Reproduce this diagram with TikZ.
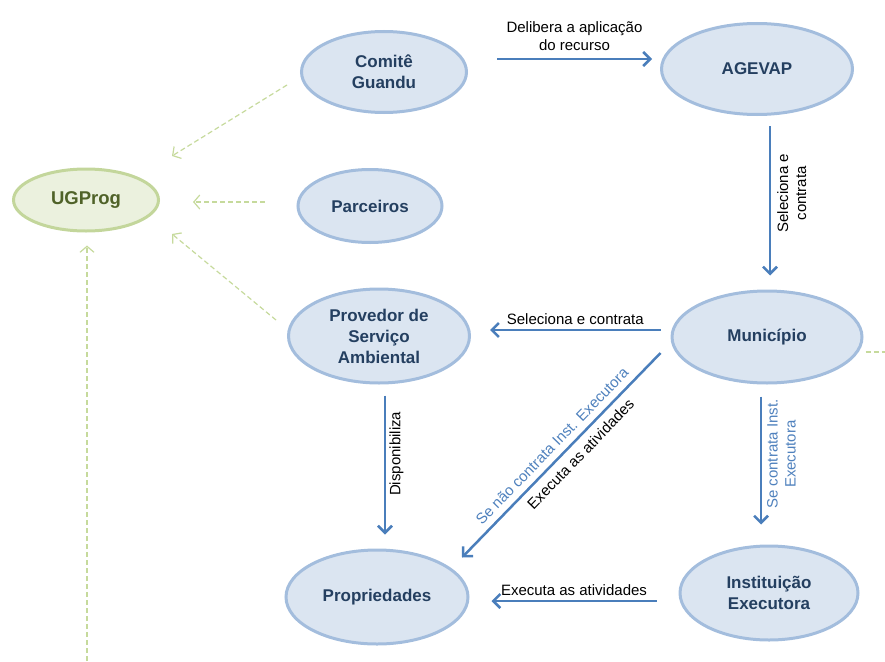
\documentclass[tikz,border=0pt]{standalone}
\usepackage{fontspec}
\setmainfont{Liberation Sans}
\usetikzlibrary{shapes.geometric,arrows.meta,calc}

\definecolor{fundoazul}{HTML}{DBE5F1}
\definecolor{bordaazul}{HTML}{A3BDDD}
\definecolor{textoazul}{HTML}{243F60}
\definecolor{setaazul}{HTML}{4A7EBB}
\definecolor{rotuloazul}{HTML}{4F81BD}
\definecolor{fundoverde}{HTML}{EBF1DE}
\definecolor{bordaverde}{HTML}{C3D69B}
\definecolor{textoverde}{HTML}{4F6228}
\definecolor{linhaverde}{HTML}{C6DA9C}

\begin{document}
\begin{tikzpicture}[x=1pt,y=-1pt,
    etapa/.style={ellipse, draw=bordaazul, fill=fundoazul, line width=3pt,
        inner sep=0pt, align=center, text=textoazul,
        font=\fontsize{17}{21}\selectfont\bfseries},
    gestor/.style={ellipse, draw=bordaverde, fill=fundoverde, line width=3pt,
        inner sep=0pt, align=center, text=textoverde,
        font=\fontsize{18.5}{22}\selectfont\bfseries},
    fluxo/.style={draw=setaazul, line width=2.5pt,
        -{Straight Barb[length=7pt,width=14pt,line width=2.5pt]}},
    relato/.style={draw=linhaverde, line width=1.2pt, dash pattern=on 5pt off 3pt,
        -{Straight Barb[length=6pt,width=14pt,line width=1.2pt]}},
    rotulo/.style={font=\fontsize{15}{18}\selectfont, align=center, text=black},
    condicao/.style={rotulo, text=rotuloazul}]
    \useasboundingbox (0,0) rectangle (885,661);

    % Draw the actors
    \node[etapa, minimum width=165, minimum height=81] (comite) at (384,72) {Comitê\\Guandu};
    \node[etapa, minimum width=191, minimum height=91] (agevap) at (757,69) {AGEVAP};
    \node[gestor, minimum width=145, minimum height=62] (ugprog) at (86,200) {UGProg};
    \node[etapa, minimum width=144, minimum height=73] (parceiros) at (370,206) {Parceiros};
    \node[etapa, minimum width=181, minimum height=94] (provedor) at (379,336) {Provedor de\\Serviço\\Ambiental};
    \node[etapa, minimum width=190, minimum height=92] (municipio) at (767,337) {Município};
    \node[etapa, minimum width=182, minimum height=94] (propriedades) at (377,597) {Propriedades};
    \node[etapa, minimum width=178, minimum height=94] (instituicao) at (769,593) {Instituição\\Executora};

    \coordinate (base) at (87,661);
    \coordinate (borda) at (885,352);

    % Draw the main flow
    \draw[fluxo] ($(comite.east)+(29,-13)$) -- ($(agevap.west)+(-8,-10)$)
        node[midway, above=4pt, rotulo] {Delibera a aplicação\\do recurso};
    \draw[fluxo] ($(agevap.south)+(13,10)$) -- ($(municipio.north)+(3,-14)$)
        node[pos=0.45, anchor=north, rotate=90, rotulo, inner sep=6pt] {Seleciona e\\contrata};
    \draw[fluxo] ($(municipio.west)+(-10,-7)$) -- ($(provedor.east)+(19,-6)$)
        node[midway, above=1pt, rotulo] {Seleciona e contrata};
    \draw[fluxo] ($(provedor.south)+(6,11)$) -- ($(propriedades.north)+(8,-14)$)
        node[pos=0.42, anchor=north, rotate=90, rotulo] {Disponibiliza};
    \draw[fluxo] ($(municipio.west)+(-10,16)$) -- ($(propriedades.north)+(85,9)$)
        node[pos=0.5, sloped, above=3pt, condicao] {Se não contrata Inst. Executora}
        node[pos=0.45, sloped, below=3pt, rotulo] {Executa as atividades};
    \draw[fluxo] ($(municipio.south)+(-6,12)$) -- ($(instituicao.north)+(-8,-20)$)
        node[pos=0.45, anchor=north, rotate=90, condicao, inner sep=5pt] {Se contrata Inst.\\Executora};
    \draw[fluxo] ($(instituicao.west)+(-22,8)$) -- ($(propriedades.east)+(22,4)$)
        node[midway, above=1pt, rotulo] {Executa as atividades};

    % Reports to UGProg
    \draw[relato] ($(comite.west)+(-13,13)$) -- ($(ugprog.east)+(12,-44)$);
    \draw[relato] ($(parceiros.west)+(-32,-4)$) -- ($(ugprog.east)+(33,2)$);
    \draw[relato] ($(provedor.west)+(-11,-16)$) -- ($(ugprog.east)+(12,34)$);
    \draw[relato] (base) -- ($(ugprog.south)+(1,13)$);
    \draw[draw=linhaverde, line width=1.2pt, dash pattern=on 5pt off 3pt] ($(municipio.east)+(2,15)$) -- (borda);
\end{tikzpicture}
\end{document}
